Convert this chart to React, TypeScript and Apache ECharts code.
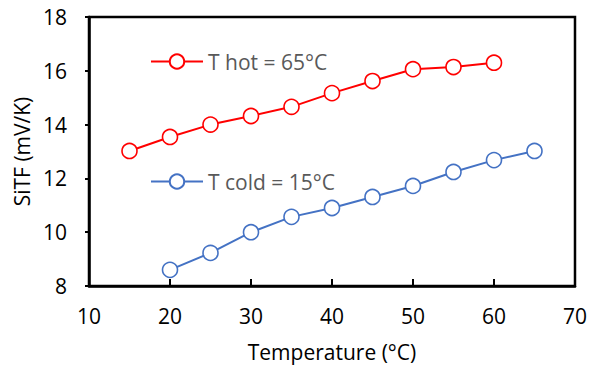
import React, { useEffect, useRef } from "react";
import * as echarts from "echarts";

const temps = [15, 20, 25, 30, 35, 40, 45, 50, 55, 60, 65];
const hotValues = [13.02, 13.54, 14.0, 14.32, 14.66, 15.17, 15.62, 16.06, 16.14, 16.3, null];
const coldValues = [null, 8.6, 9.23, 10.0, 10.57, 10.9, 11.31, 11.72, 12.24, 12.68, 13.02];
const hotName = "T hot = 65°C";
const coldName = "T cold = 15°C";
const xTitle = "Temperature (°C)";
const yTitle = "SiTF (mV/K)";

const FONT = "Open Sans";
const FS = 21;

export default function App() {
  const ref = useRef<HTMLDivElement>(null);
  useEffect(() => {
    const chart = echarts.init(ref.current!, null, { renderer: "svg" });
    const mk = (vals: (number | null)[]) =>
      temps.map((t, i) => [t, vals[i]]).filter((p) => p[1] !== null);
    const series = (name: string, color: string, vals: (number | null)[]) => ({
      name,
      type: "line",
      data: mk(vals),
      symbol: "circle",
      symbolSize: 15,
      lineStyle: { color, width: 2 },
      itemStyle: { color: "#ffffff", borderColor: color, borderWidth: 1.6 },
    });
    const legendBase = {
      left: 150,
      padding: 0,
      itemWidth: 52,
      itemHeight: 18,
      textStyle: { color: "#595959", fontSize: FS, fontFamily: FONT },
    };
    chart.setOption({
      animation: false,
      textStyle: { fontFamily: FONT },
      grid: {
        left: 89,
        right: 14,
        top: 17,
        bottom: 83,
        show: true,
        borderColor: "#000",
        borderWidth: 2.5,
      },
      legend: [
        { ...legendBase, top: 51, data: [hotName] },
        { ...legendBase, top: 171, data: [coldName] },
      ],
      xAxis: {
        type: "value",
        min: 10,
        max: 70,
        interval: 10,
        name: xTitle,
        nameLocation: "middle",
        nameGap: 55,
        nameTextStyle: { color: "#000", fontSize: FS, fontFamily: FONT },
        axisLine: { show: true, lineStyle: { color: "#000", width: 2.5 } },
        axisTick: { show: true, inside: true, length: 7, lineStyle: { color: "#000", width: 2 } },
        axisLabel: { color: "#000", fontSize: FS, margin: 19, fontFamily: FONT },
        splitLine: { show: false },
      },
      yAxis: {
        type: "value",
        min: 8,
        max: 18,
        interval: 2,
        name: yTitle,
        nameLocation: "middle",
        nameGap: 55,
        nameTextStyle: { color: "#000", fontSize: FS, fontFamily: FONT },
        axisLine: { show: true, lineStyle: { color: "#000", width: 2.5 } },
        axisTick: { show: true, inside: false, length: 4, lineStyle: { color: "#000", width: 2 } },
        axisLabel: { color: "#000", fontSize: FS, margin: 22, fontFamily: FONT },
        splitLine: { show: false },
      },
      series: [series(hotName, "#ff0000", hotValues), series(coldName, "#4472c4", coldValues)],
    });
    return () => chart.dispose();
  }, []);
  return <div ref={ref} style={{ width: 590, height: 369, position: "absolute", left: 0, top: 0 }} />;
}
